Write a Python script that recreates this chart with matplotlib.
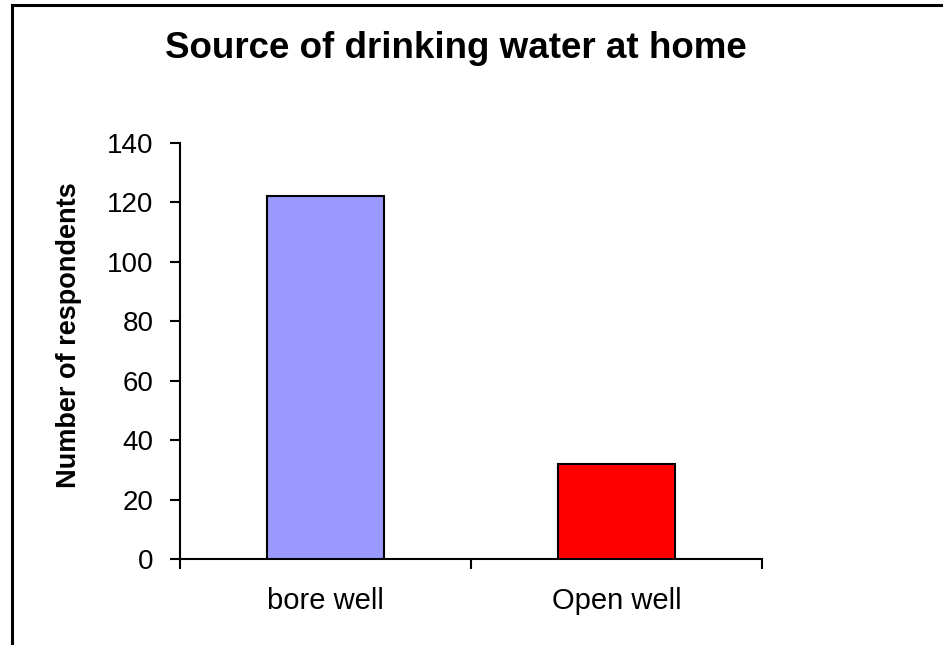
import matplotlib
matplotlib.use("Agg")
import matplotlib.pyplot as plt
from matplotlib.lines import Line2D

plt.rcParams['font.family'] = ['Liberation Sans', 'DejaVu Sans']

# datos
categorias = ['bore well', 'Open well']
respondentes = [122, 32]
colores = ['#9999FF', '#FF0000']

fig = plt.figure(figsize=(9.43, 6.45), dpi=100)
W, H = 943, 645
ax = fig.add_axes([180 / W, 1 - 559 / H, (762 - 180) / W, (559 - 143) / H])

ax.bar(range(len(categorias)), respondentes, width=0.4, color=colores,
       edgecolor='black', linewidth=1.5, zorder=3)

ax.set_xlim(-0.5, len(categorias) - 0.5)
ax.set_ylim(0, 140)
ax.set_yticks(range(0, 141, 20))
ax.set_xticks([-0.5, 0.5, 1.5], minor=False)
ax.set_xticklabels([])
ax.set_xticks(range(len(categorias)), minor=True)
ax.set_xticklabels(categorias, minor=True)
ax.tick_params(axis='x', which='minor', length=0, pad=20, labelsize=21)
ax.tick_params(axis='x', which='major', length=7, width=1.5, direction='out')
ax.tick_params(axis='y', length=7, width=1.5, direction='out', pad=12, labelsize=20)

for s in ['top', 'right']:
    ax.spines[s].set_visible(False)
for s in ['left', 'bottom']:
    ax.spines[s].set_linewidth(1.5)

ax.set_ylabel('Number of respondents', fontsize=19.5, fontweight='bold')
ax.yaxis.set_label_coords(-0.168, 0.538)

fig.text(456 / W, 1 - 49 / H, 'Source of drinking water at home',
         ha='center', va='center', fontsize=26.5, fontweight='bold')

# marco de la figura (solo arriba e izquierda)
fig.add_artist(Line2D([11.5 / W, 1], [1 - 4.5 / H, 1 - 4.5 / H],
                      transform=fig.transFigure, color='black', linewidth=2.2))
fig.add_artist(Line2D([11.5 / W, 11.5 / W], [0, 1 - 4.5 / H],
                      transform=fig.transFigure, color='black', linewidth=2.2))

fig.savefig('out.png', dpi=100)
